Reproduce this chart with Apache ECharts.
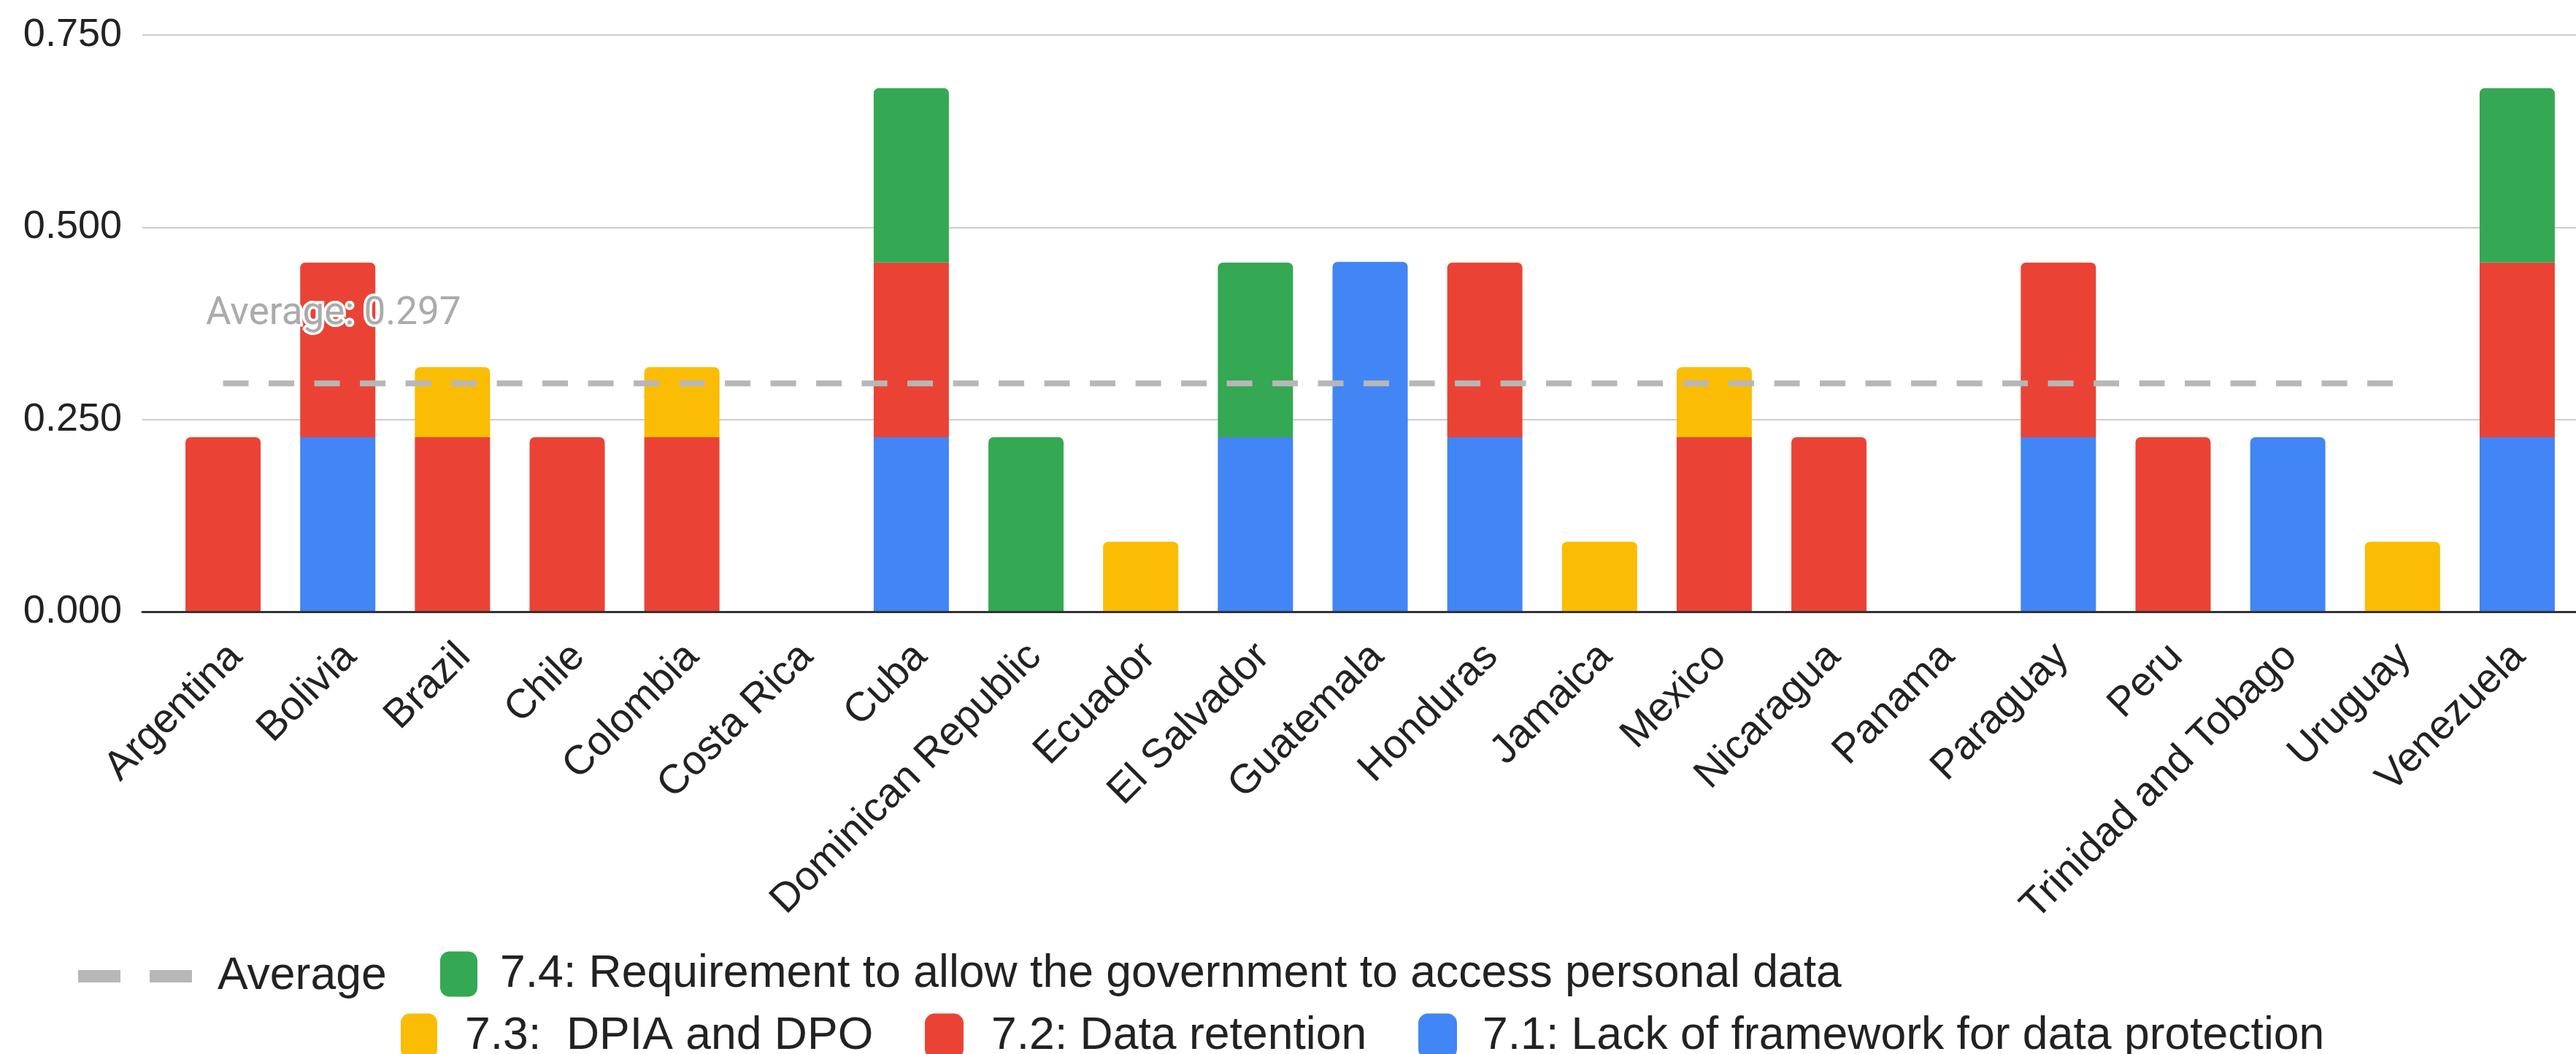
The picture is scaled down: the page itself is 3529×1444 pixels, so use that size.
<!DOCTYPE html>
<html>
<head>
<meta charset="utf-8">
<script src="https://cdn.jsdelivr.net/npm/echarts@6/dist/echarts.min.js"></script>
<style>
html,body{margin:0;padding:0;background:#fff;}
#chart{width:3529px;height:1444px;}
</style>
</head>
<body>
<div id="chart"></div>
<script>
const categories = ["Argentina","Bolivia","Brazil","Chile","Colombia","Costa Rica","Cuba","Dominican Republic","Ecuador","El Salvador","Guatemala","Honduras","Jamaica","Mexico","Nicaragua","Panama","Paraguay","Peru","Trinidad and Tobago","Uruguay","Venezuela"];
const s71 = [0,0.227,0,0,0,0,0.227,0,0,0.227,0.455,0.227,0,0,0,0,0.227,0,0.227,0,0.227];
const s72 = [0.227,0.227,0.227,0.227,0.227,0,0.227,0,0,0,0,0.227,0,0.227,0.227,0,0.227,0.227,0,0,0.227];
const s73 = [0,0,0.091,0,0.091,0,0,0,0.091,0,0,0,0.091,0.091,0,0,0,0,0,0.091,0];
const s74 = [0,0,0,0,0,0,0.227,0.227,0,0.227,0,0,0,0,0,0,0,0,0,0,0.227];
const averageLine = [0.297,0.297,0.297,0.297,0.297,0.297,0.297,0.297,0.297,0.297,0.297,0.297,0.297,0.297,0.297,0.297,0.297,0.297,0.297,0.297,null];
const averageValue = 0.297;
const yTicks = [0, 0.25, 0.5, 0.75];

const names = {
  s71: "7.1: Lack of framework for data protection",
  s72: "7.2: Data retention",
  s73: "7.3:  DPIA and DPO",
  s74: "7.4: Requirement to allow the government to access personal data"
};
const colors = {s71:'#4285F4', s72:'#EA4335', s73:'#FBBC04', s74:'#34A853'};
const stackOrder = [['s71', s71], ['s72', s72], ['s73', s73], ['s74', s74]];

function topIndexFor(i){
  let top = -1;
  stackOrder.forEach((p, k) => { if (p[1][i] > 0) top = k; });
  return top;
}
const FONT = "'Liberation Sans', Arial, sans-serif";
const barSeries = stackOrder.map((p, k) => ({
  name: names[p[0]],
  type: 'bar',
  stack: 'total',
  xAxisIndex: 1, yAxisIndex: 1,
  barWidth: 103,
  itemStyle: {color: colors[p[0]]},
  data: p[1].map((v, i) => topIndexFor(i) === k
      ? {value: v, itemStyle: {borderRadius: [7,7,0,0]}}
      : v),
  z: 2
}));

const chart = echarts.init(document.getElementById('chart'), null, {renderer: 'canvas'});

function legendItem(name, left, top, iw, ih, gap, icon){
  return {
    show: true, left: left, top: top, padding: 0, orient: 'horizontal',
    itemWidth: iw, itemHeight: ih, itemGap: 0,
    icon: icon || 'roundRect',
    selectedMode: false,
    data: [name],
    textStyle: {fontSize: 62.5, color: '#222', fontFamily: FONT, padding: [0,0,0,gap]}
  };
}

chart.setOption({
  animation: false,
  backgroundColor: '#fff',
  grid: [
    {left: 195, right: 0, top: 48, height: 790, containLabel: false},
    {left: 227, width: 3300, top: 48, height: 790, containLabel: false},
    {left: 245, width: 3300, top: 48, height: 790, containLabel: false}
  ],
  xAxis: [
    {gridIndex: 0, type: 'value', min: 0, max: 1, axisLabel: {show: false}, axisTick: {show: false},
     splitLine: {show: false}, axisLine: {show: true, lineStyle: {color: '#333', width: 3}}, z: 3},
    {gridIndex: 1, type: 'category', data: categories, boundaryGap: true,
     axisLine: {show: false}, axisTick: {show: false}, axisLabel: {show: false}},
    {gridIndex: 2, type: 'category', data: categories, boundaryGap: true,
     axisLine: {show: false}, axisTick: {show: false},
     axisLabel: {rotate: 45, fontSize: 56, color: '#222', fontFamily: FONT, margin: 53, interval: 0}}
  ],
  yAxis: [
    {gridIndex: 0, type: 'value', min: 0, max: 0.75, interval: 0.25,
     axisLine: {show: false}, axisTick: {show: false},
     splitLine: {show: true, lineStyle: {color: '#cccccc', width: 2}},
     axisLabel: {fontSize: 54, color: '#222', fontFamily: FONT, margin: 28,
                 formatter: v => v.toFixed(3)}},
    {gridIndex: 1, type: 'value', min: 0, max: 0.75, interval: 0.25, show: false},
    {gridIndex: 2, type: 'value', min: 0, max: 0.75, interval: 0.25, show: false}
  ],
  legend: [
    legendItem('Average', 107, 1306, 156, 17, 30, 'path://M0,0H58V17H0ZM98,0H156V17H98Z'),
    legendItem(names.s74, 603, 1303, 51, 62, 26),
    legendItem(names.s73, 549, 1388, 50, 62, 33),
    legendItem(names.s72, 1267, 1388, 53, 62, 33),
    legendItem(names.s71, 1943, 1388, 53, 62, 30)
  ],
  series: barSeries.concat([{
    name: 'Average',
    type: 'line',
    xAxisIndex: 1, yAxisIndex: 1,
    data: averageLine,
    symbol: 'none',
    color: '#b7b7b7',
    itemStyle: {color: '#b7b7b7'},
    lineStyle: {color: '#b7b7b7', width: 8, type: [35, 27.5], cap: 'butt'},
    z: 5,
    markPoint: {
      symbol: 'rect', symbolSize: 1,
      itemStyle: {color: 'rgba(0,0,0,0)'},
      animation: false,
      data: [{
        coord: [0, averageValue],
        label: {
          show: true,
          position: [-23, -94],
          align: 'left', verticalAlign: 'middle',
          formatter: 'Average: ' + averageValue.toFixed(3),
          fontFamily: 'Roboto', fontSize: 53, color: '#ababab',
          textBorderColor: '#ffffff', textBorderWidth: 7
        }
      }]
    }
  }])
});
</script>
</body>
</html>
